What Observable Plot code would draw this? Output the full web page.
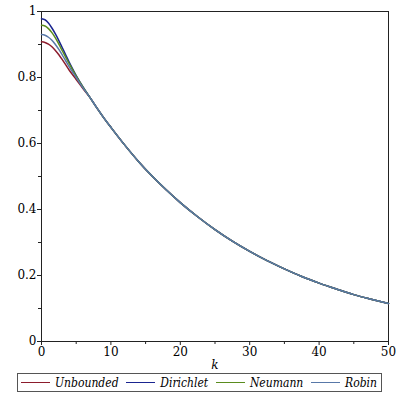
<!DOCTYPE html>
<html>
<head>
<meta charset="utf-8">
<script src="https://cdn.jsdelivr.net/npm/d3@7"></script>
<script src="https://cdn.jsdelivr.net/npm/@observablehq/plot@0.6"></script>
<style>
  html, body { margin: 0; padding: 0; background: #fff; }
  #wrap { position: relative; width: 399px; height: 399px; }
  #legend {
    position: absolute; left: 17px; top: 373px; width: 365px; height: 19px;
    border: 1px solid #555; box-sizing: border-box;
    display: flex; align-items: center; justify-content: space-between;
    padding: 0 4px 0 3px; font-family: "DejaVu Serif", serif; font-style: italic; font-size: 12px;
    font-stretch: condensed; color: #000; white-space: nowrap;
  }
  .item { display: flex; align-items: center; }
  .sw { display: inline-block; width: 29px; height: 0; border-top: 1.6px solid; margin-right: 5px; }
</style>
</head>
<body>
<div id="wrap"><div id="chart"></div><div id="legend"></div></div>
<script>
const series = ["Unbounded", "Dirichlet", "Neumann", "Robin"];
const colors = ["#8c1c2c", "#1a2590", "#5a8c1e", "#5878a8"];

// head: k from 0 to 6, where the curves differ
const kHead = [0, 0.5, 1, 1.5, 2, 2.5, 3, 3.5, 4, 5, 6];
const unbounded = [0.908, 0.906, 0.901, 0.893, 0.882, 0.869, 0.854, 0.838, 0.822, 0.794, 0.766];
const dirichlet = [0.978, 0.975, 0.965, 0.950, 0.932, 0.912, 0.890, 0.868, 0.846, 0.806, 0.771];
const neumann   = [0.958, 0.956, 0.948, 0.936, 0.920, 0.901, 0.881, 0.861, 0.841, 0.804, 0.770];
const robin     = [0.930, 0.928, 0.922, 0.913, 0.900, 0.885, 0.868, 0.850, 0.832, 0.800, 0.768];

// tail: all curves coincide
const kTail = [7, 8, 9, 10, 12, 14, 16, 18, 20, 22.5, 25, 27.5, 30, 32.5, 35, 37.5, 40, 42.5, 45, 47.5, 50];
const tail  = [0.739, 0.707, 0.677, 0.649, 0.595, 0.545, 0.500, 0.459, 0.421, 0.378, 0.339, 0.304, 0.273, 0.245, 0.220, 0.197, 0.177, 0.159, 0.142, 0.128, 0.115];

const xTicks = [0, 10, 20, 30, 40, 50];
const xMinor = [5, 15, 25, 35, 45];
const yTicks = [0, 0.2, 0.4, 0.6, 0.8, 1];
const yMinor = [0.1, 0.3, 0.5, 0.7, 0.9];
const xLabel = "k";

const heads = [unbounded, dirichlet, neumann, robin];
const rows = [];
series.forEach((s, i) => {
  kHead.forEach((k, j) => rows.push({s, k, v: heads[i][j]}));
  kTail.forEach((k, j) => rows.push({s, k, v: tail[j]}));
});

const chart = Plot.plot({
  width: 399,
  height: 372,
  marginLeft: 41,
  marginRight: 11,
  marginTop: 11,
  marginBottom: 31,
  style: {fontFamily: "DejaVu Serif, serif", fontSize: "12px", color: "#000", background: "#fff"},
  x: {domain: [0, 50]},
  y: {domain: [0, 1]},
  color: {domain: series, range: colors},
  marks: [
    Plot.frame({stroke: "#222", strokeWidth: 1}),
    Plot.axisX({ticks: xTicks, tickSize: 4, tickPadding: 2, tickFormat: d => String(d), label: null, stroke: "#222"}),
    Plot.axisX({ticks: xMinor, tickSize: 3, text: null, label: null, stroke: "#222"}),
    Plot.axisY({ticks: yTicks, tickSize: 4, tickPadding: 1, tickFormat: d => String(d), label: null, stroke: "#222"}),
    Plot.axisY({ticks: yMinor, tickSize: 3, text: null, label: null, stroke: "#222"}),
    Plot.line(rows, {x: "k", y: "v", z: "s", stroke: "s", strokeWidth: 1.5, curve: "catmull-rom"}),
    Plot.text([xLabel], {frameAnchor: "bottom", text: d => d, dy: 27, fontStyle: "italic", fontSize: 12})
  ]
});
document.getElementById("chart").appendChild(chart);

const legend = document.getElementById("legend");
series.forEach((s, i) => {
  const item = document.createElement("span");
  item.className = "item";
  const sw = document.createElement("span");
  sw.className = "sw";
  sw.style.borderTopColor = colors[i];
  const t = document.createElement("span");
  t.textContent = s;
  item.appendChild(sw);
  item.appendChild(t);
  legend.appendChild(item);
});
</script>
</body>
</html>
